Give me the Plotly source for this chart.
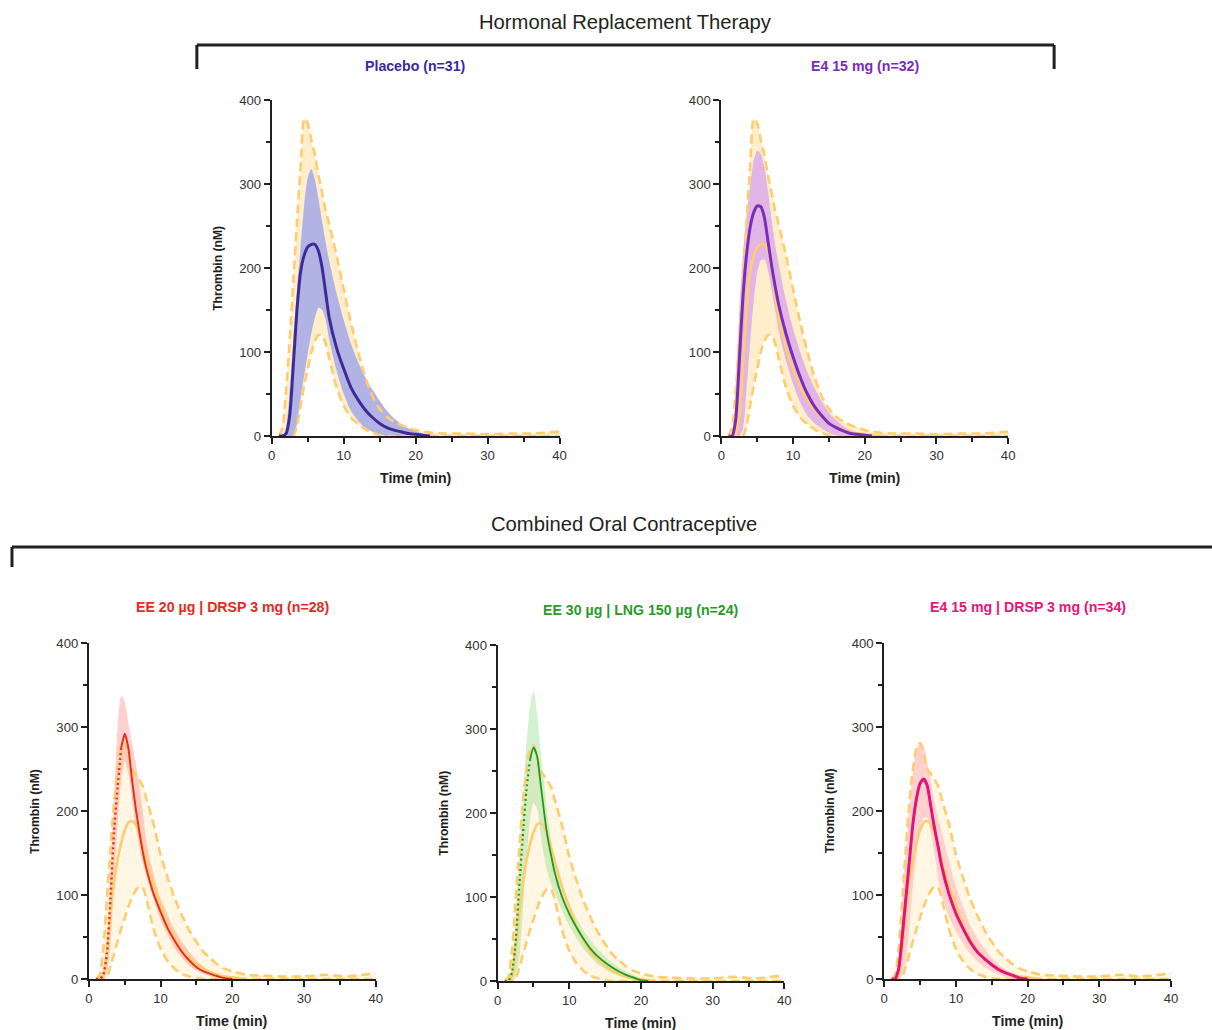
import plotly.graph_objects as go

# ---------------- DATA ----------------
T_REF = [1, 1.5, 2, 2.5, 3, 3.5, 4, 4.5, 5, 5.5, 6, 6.5, 7, 7.5, 8, 9, 10, 11, 12, 13, 14, 15, 16, 17,
         18, 19, 20, 22, 24, 27, 30, 33, 36, 40]
T_GRP = [1, 1.5, 2, 2.5, 3, 3.5, 4, 4.5, 5, 5.5, 6, 6.5, 7, 7.5, 8, 9, 10, 11, 12, 13, 14, 15, 16, 17,
         18, 19, 20, 21, 22, 23]

HRT_REF_UP = [0, 10, 55, 115, 185, 255, 320, 378, 372, 352, 335, 310, 290, 268, 252, 215, 175, 135, 100,
              70, 47, 32, 23, 17, 13, 10, 7, 4, 3, 3, 2, 3, 3, 5]
HRT_REF_LO = [0, 0, 0, 0, 0, 12, 36, 60, 80, 100, 113, 120, 120, 110, 92, 58, 36, 22, 14, 8, 4, 1, 0, 0,
              0, 0, 0, 0, 0, 0, 0, 0, 0, 0]

PLACEBO_MED = [0, 0, 3, 25, 85, 150, 195, 215, 225, 228, 228, 220, 200, 170, 140, 105, 80, 58, 43, 31,
               22, 15, 10, 7, 5, 3, 2, 1, 0, None]
PLACEBO_UP = [0, 0, 10, 55, 115, 175, 225, 275, 308, 318, 305, 282, 255, 230, 208, 170, 138, 110, 88, 70,
              55, 42, 30, 21, 14, 9, 6, 3, 1, 0]
PLACEBO_LO = [0, 0, 0, 0, 0, 14, 45, 72, 98, 122, 141, 153, 150, 138, 114, 78, 50, 30, 18, 10, 5, 2, 0,
              0, 0, 0, 0, 0, 0, 0]

E4_MED = [0, 0, 20, 90, 165, 215, 248, 266, 274, 273, 260, 232, 203, 178, 156, 122, 94, 70, 50, 35, 24,
          15, 10, 6, 3, 2, 1, 0, None, None]
E4_UP = [0, 0, 60, 150, 215, 262, 298, 328, 340, 336, 320, 292, 258, 228, 204, 162, 128, 100, 76, 57, 41,
         28, 19, 12, 7, 4, 2, 0, 0, 0]
E4_LO = [0, 0, 0, 0, 8, 54, 110, 160, 195, 209, 210, 197, 175, 150, 125, 90, 62, 40, 24, 15, 9, 4, 1, 0,
         0, 0, 0, 0, 0, 0]

COC_REF_UP = [0, 5, 35, 95, 155, 210, 250, 275, 281, 268, 250, 244, 238, 230, 215, 185, 148, 120, 95, 75,
              58, 44, 32, 24, 17, 12, 9, 5, 4, 3, 3, 5, 3, 7]
COC_REF_MED = [0, 0, 5, 35, 78, 115, 142, 162, 177, 186, 188, 184, 174, 158, 142, 112, 88, 65, 48, 34,
               25, 18, 12, 8, 5, 3, 2, 0, None, None, None, None, None, None]
COC_REF_LO = [0, 0, 0, 2, 15, 30, 45, 60, 73, 86, 97, 105, 110, 109, 96, 60, 36, 21, 12, 6, 3, 1, 0, 0,
              0, 0, 0, 0, 0, 0, 0, 0, 0, 0]

RED_MED = [0, 0, 5, 30, 95, 175, 228, 275, 292, 275, 238, 205, 177, 152, 132, 102, 80, 60, 45, 32, 22,
           14, 9, 6, 3, 1, 0, None, None, None]
RED_UP = [0, 0, 10, 45, 130, 215, 300, 337, 330, 305, 282, 258, 232, 200, 165, 125, 96, 76, 58, 44, 32,
          22, 15, 9, 6, 3, 1, 0, 0, 0]
RED_LO = [0, 0, 0, 8, 40, 115, 185, 235, 260, 245, 215, 182, 158, 138, 122, 95, 70, 52, 36, 25, 16, 10,
          6, 3, 1, 0, 0, 0, 0, 0]

GRN_MED = [0, 0, 10, 45, 110, 170, 225, 262, 278, 268, 235, 200, 170, 148, 128, 100, 80, 64, 50, 38, 29,
           22, 16, 11, 7, 4, 1, 0, None, None]
GRN_UP = [0, 0, 20, 70, 145, 215, 280, 325, 345, 320, 275, 235, 195, 165, 140, 115, 92, 75, 60, 48, 38,
          29, 22, 16, 11, 7, 3, 0, 0, 0]
GRN_LO = [0, 0, 0, 5, 25, 80, 140, 190, 212, 205, 175, 148, 128, 115, 104, 84, 66, 51, 38, 28, 20, 14,
          9, 6, 3, 1, 0, 0, 0, 0]

PNK_MED = [0, 0, 12, 50, 95, 140, 185, 215, 233, 238, 230, 205, 180, 158, 135, 102, 78, 60, 44, 32, 24,
           17, 11, 7, 4, 1, 0, None, None, None]
PNK_UP = [0, 0, 25, 85, 150, 200, 245, 272, 282, 278, 258, 236, 212, 193, 176, 142, 110, 86, 64, 48, 36,
          25, 17, 11, 7, 4, 2, 0, 0, 0]
PNK_LO = [0, 0, 0, 5, 22, 60, 110, 150, 178, 192, 192, 175, 150, 122, 100, 75, 57, 42, 30, 21, 14, 9, 5,
          2, 0, 0, 0, 0, 0, 0]

X_TICKS = [0, 10, 20, 30, 40]
Y_TICKS = [0, 100, 200, 300, 400]

TITLES = ["Placebo (n=31)", "E4 15 mg (n=32)", "EE 20 µg | DRSP 3 mg (n=28)",
          "EE 30 µg | LNG 150 µg (n=24)", "E4 15 mg | DRSP 3 mg (n=34)"]
GROUP_TITLES = ["Hormonal Replacement Therapy", "Combined Oral Contraceptive"]
X_TITLE = "Time (min)"
Y_TITLE = "Thrombin (nM)"

# ---------------- STYLE / LAYOUT ----------------
W, H = 1212, 1030
FONT = "Arial, Liberation Sans, sans-serif"
INK = "#231F20"
YEL = "#FFCC6E"

# the page is photographed slightly reduced; compensate so elements land on target pixels
SX, OX = 1202 / 1212, 3.0
SY, OY = 1015 / 1030, 7.0
FS = 1 / ((SX + SY) / 2)


def px(x):
    return ((x - OX) / SX) / W


def py(y):
    return 1 - ((y - OY) / SY) / H


BOX = [(271, 559, 100, 436), (721, 1008, 100, 436),
       (88, 375, 643, 979), (497, 784, 645, 981), (884, 1171, 643, 979)]

panels = [
    dict(ref_up=HRT_REF_UP, ref_lo=HRT_REF_LO, ref_med=PLACEBO_MED, ref_fill="rgba(255,208,120,0.38)",
         med=PLACEBO_MED, up=PLACEBO_UP, lo=PLACEBO_LO, line="#3A2A9B", band="#B1B3E5",
         lw=3, dotted=False, ylab=True, tcol="#3A2A9B"),
    dict(ref_up=HRT_REF_UP, ref_lo=HRT_REF_LO, ref_med=PLACEBO_MED, ref_fill="rgba(255,208,120,0.38)",
         med=E4_MED, up=E4_UP, lo=E4_LO, line="#7A2DB8", band="#E2B5E7",
         lw=3, dotted=False, ylab=False, tcol="#7A2DB8"),
    dict(ref_up=COC_REF_UP, ref_lo=COC_REF_LO, ref_med=COC_REF_MED, ref_fill="rgba(255,214,130,0.22)",
         med=RED_MED, up=RED_UP, lo=RED_LO, line="#E2321E", band="rgba(255,110,100,0.32)",
         lw=2, dotted=True, ylab=True, tcol="#E8281E"),
    dict(ref_up=COC_REF_UP, ref_lo=COC_REF_LO, ref_med=COC_REF_MED, ref_fill="rgba(255,214,130,0.22)",
         med=GRN_MED, up=GRN_UP, lo=GRN_LO, line="#1E9A1E", band="rgba(100,210,90,0.28)",
         lw=1.8, dotted=True, ylab=True, tcol="#2A9A2A"),
    dict(ref_up=COC_REF_UP, ref_lo=COC_REF_LO, ref_med=COC_REF_MED, ref_fill="rgba(255,214,130,0.22)",
         med=PNK_MED, up=PNK_UP, lo=PNK_LO, line="#E0147A", band="rgba(255,130,155,0.33)",
         lw=3, dotted=False, ylab=True, tcol="#E8147A"),
]

fig = go.Figure()
layout = dict(width=W, height=H, margin=dict(l=0, r=0, t=0, b=0), plot_bgcolor="white",
              paper_bgcolor="white", showlegend=False, font=dict(family=FONT, color="#333"))
annotations = []
shapes = []
SPL = dict(shape="spline", smoothing=0.6)

for i, (p, (x0, x1, yt, yb)) in enumerate(zip(panels, BOX), start=1):
    xn = "x" if i == 1 else f"x{i}"
    yn = "y" if i == 1 else f"y{i}"
    xk = "xaxis" if i == 1 else f"xaxis{i}"
    yk = "yaxis" if i == 1 else f"yaxis{i}"
    common = dict(showline=True, linecolor=INK, linewidth=2, ticks="outside", ticklen=6,
                  tickwidth=1.5, tickcolor=INK, showgrid=False, zeroline=False,
                  tickfont=dict(size=13 * FS, color="#333", family=FONT), fixedrange=True)
    layout[xk] = dict(domain=[px(x0), px(x1)], range=[0, 40], anchor=yn, tickvals=X_TICKS,
                      minor=dict(ticks="outside", ticklen=4, tickwidth=1.5, tickcolor=INK,
                                 dtick=5, tick0=0), **common)
    layout[yk] = dict(domain=[py(yb), py(yt)], range=[0, 400], anchor=xn, tickvals=Y_TICKS,
                      minor=dict(ticks="outside", ticklen=4, tickwidth=1.5, tickcolor=INK,
                                 dtick=50, tick0=0), **common)
    ax = dict(xaxis=xn, yaxis=yn, hoverinfo="skip", showlegend=False, mode="lines")

    # reference range fill
    fig.add_trace(go.Scatter(x=T_REF, y=p["ref_lo"], line=dict(width=0, **SPL), **ax))
    fig.add_trace(go.Scatter(x=T_REF, y=p["ref_up"], line=dict(width=0, **SPL), fill="tonexty",
                             fillcolor=p["ref_fill"], **ax))
    # group band
    fig.add_trace(go.Scatter(x=T_GRP, y=p["lo"], line=dict(width=0, **SPL), **ax))
    fig.add_trace(go.Scatter(x=T_GRP, y=p["up"], line=dict(width=0, **SPL), fill="tonexty",
                             fillcolor=p["band"], **ax))
    # reference limits (dashed)
    for arr in (p["ref_up"], p["ref_lo"]):
        fig.add_trace(go.Scatter(x=T_REF, y=arr, line=dict(color=YEL, width=2.6, dash="9px,5px", **SPL), **ax))
    # reference median
    tmed = T_REF if len(p["ref_med"]) == len(T_REF) else T_GRP
    fig.add_trace(go.Scatter(x=tmed, y=p["ref_med"], line=dict(color=YEL, width=2.6, **SPL), **ax))
    # group median
    if p["dotted"]:
        k = T_GRP.index(4.5)
        fig.add_trace(go.Scatter(x=T_GRP[:k + 1], y=p["med"][:k + 1],
                                 line=dict(color=p["line"], width=p["lw"] + 0.4, dash="2px,3px", **SPL), **ax))
        fig.add_trace(go.Scatter(x=T_GRP[k:], y=p["med"][k:],
                                 line=dict(color=p["line"], width=p["lw"], **SPL), **ax))
    else:
        fig.add_trace(go.Scatter(x=T_GRP, y=p["med"], line=dict(color=p["line"], width=p["lw"], **SPL), **ax))

    cx = (x0 + x1) / 2
    ty = 66 if i <= 2 else (610 if i == 4 else 607)
    annotations.append(dict(text=f"<b>{TITLES[i - 1]}</b>", x=px(cx), y=py(ty), xref="paper", yref="paper",
                            showarrow=False, font=dict(size=14 * FS, color=p["tcol"], family=FONT),
                            xanchor="center", yanchor="middle"))
    annotations.append(dict(text=f"<b>{X_TITLE}</b>", x=px(cx), y=py(yb + 42), xref="paper", yref="paper",
                            showarrow=False, font=dict(size=14 * FS, color=INK, family=FONT),
                            xanchor="center", yanchor="middle"))
    if p["ylab"]:
        annotations.append(dict(text=f"<b>{Y_TITLE}</b>", x=px(x0 - 54), y=py((yt + yb) / 2),
                                xref="paper", yref="paper", showarrow=False, textangle=-90,
                                font=dict(size=12 * FS, color=INK, family=FONT),
                                xanchor="center", yanchor="middle"))

annotations.append(dict(text=GROUP_TITLES[0], x=px(625), y=py(22), xref="paper", yref="paper",
                        showarrow=False, font=dict(size=20 * FS, color=INK, family=FONT),
                        xanchor="center", yanchor="middle"))
annotations.append(dict(text=GROUP_TITLES[1], x=px(624), y=py(524), xref="paper", yref="paper",
                        showarrow=False, font=dict(size=20 * FS, color=INK, family=FONT),
                        xanchor="center", yanchor="middle"))

# group brackets
bl = dict(color=INK, width=3)
for (xa, ya, xb, yb2) in [(196, 45, 1054, 45), (196, 45, 196, 69), (1054, 45, 1054, 69),
                          (11, 547, 1215, 547), (11, 547, 11, 567)]:
    shapes.append(dict(type="line", xref="paper", yref="paper", x0=px(xa), y0=py(ya), x1=px(xb), y1=py(yb2),
                       line=bl))

layout["annotations"] = annotations
layout["shapes"] = shapes
fig.update_layout(**layout)
fig.write_html("out.html", config={"displayModeBar": False},
               post_script="document.body.style.margin='0';document.body.style.padding='0';"
                           "document.body.style.overflow='hidden';")
